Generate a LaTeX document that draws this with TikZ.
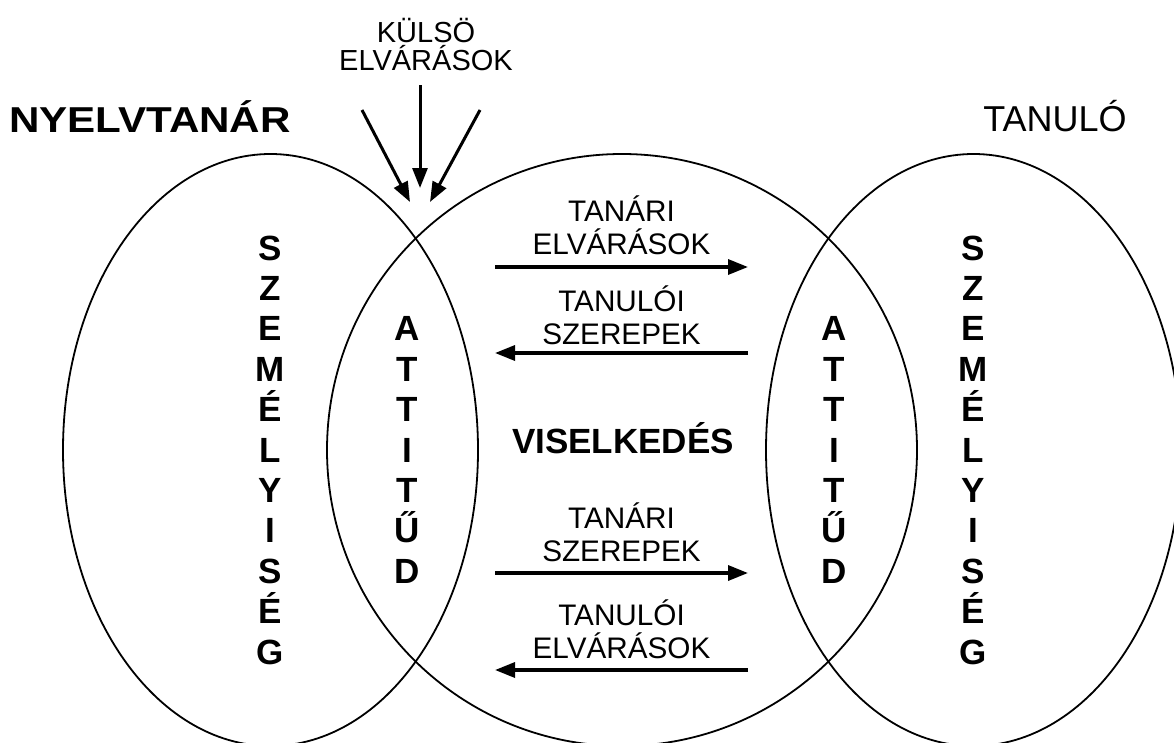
\documentclass[tikz,border=0pt]{standalone}
\usepackage{fontspec}
\setmainfont{Liberation Sans}
\usetikzlibrary{arrows.meta,shapes.geometric}

\begin{document}
\begin{tikzpicture}[x=1pt,y=-1pt,
    oval/.style={draw, ellipse, line width=1.8pt, inner sep=0pt, minimum height=592pt},
    letter/.style={anchor=base, inner sep=0pt, font=\fontsize{35}{40}\selectfont\bfseries},
    lbl/.style={anchor=south, inner sep=0pt, align=center, font=\fontsize{29.7}{33}\selectfont},
    arr/.style={line width=3.3pt, -{Triangle[length=20pt,width=15pt]}}]
    \useasboundingbox (0,0) rectangle (1174,742);

    \node[oval, minimum width=415pt] (tch) at (270.5,450) {};
    \node[oval, minimum width=590pt] (beh) at (622,450) {};
    \node[oval, minimum width=415pt] (lrn) at (973.5,450) {};

    \node[anchor=base west, inner sep=0pt, font=\fontsize{36}{40}\selectfont\bfseries] (tchname) at (9,132) {\scalebox{1.17}[1]{NYELVTANÁR}};
    \node[anchor=base, inner sep=0pt, font=\fontsize{36}{40}\selectfont] (lrnname) at (1055,131) {TANULÓ};
    \node[anchor=south, inner sep=0pt, align=center, font=\fontsize{29}{28}\selectfont] (ext) at (426,71) {KÜLSÖ\\ELVÁRÁSOK};

    \foreach \ch [count=\i from 0] in {S,Z,E,M,É,L,Y,I,S,É,G} {
        \node[letter] (szl\i) at (270.5,260+40.4*\i) {\ch};
        \node[letter] (szr\i) at (973.5,260+40.4*\i) {\ch};
    }
    \foreach \ch [count=\i from 2] in {A,T,T,I,T,Ű,D} {
        \node[letter] (atl\i) at (407,260+40.4*\i) {\ch};
        \node[letter] (atr\i) at (834,260+40.4*\i) {\ch};
    }
    \node[letter] (viselk) at (623,453) {VISELKEDÉS};

    \coordinate (e0) at (420,85);   \coordinate (e0t) at (420,188);
    \coordinate (e1) at (362,110);  \coordinate (e1t) at (410,202);
    \coordinate (e2) at (480,110);  \coordinate (e2t) at (430,202);
    \draw[line width=3pt, -{Triangle[length=20pt,width=15pt]}] (e0) -- (e0t);
    \draw[line width=3pt, -{Triangle[length=20pt,width=15pt]}] (e1) -- (e1t);
    \draw[line width=3pt, -{Triangle[length=20pt,width=15pt]}] (e2) -- (e2t);

    \coordinate (a1l) at (495,267); \coordinate (a1r) at (748,267);
    \coordinate (a2l) at (495,353); \coordinate (a2r) at (748,353);
    \coordinate (a3l) at (495,573); \coordinate (a3r) at (748,573);
    \coordinate (a4l) at (495,670); \coordinate (a4r) at (748,670);

    \node[lbl] (l1) at (621.5,255) {TANÁRI\\ELVÁRÁSOK};
    \node[lbl] (l2) at (621.5,345) {TANULÓI\\SZEREPEK};
    \node[lbl] (l3) at (621.5,562) {TANÁRI\\SZEREPEK};
    \node[lbl] (l4) at (621.5,659) {TANULÓI\\ELVÁRÁSOK};

    \draw[arr] (a1l) -- (a1r);
    \draw[arr] (a2r) -- (a2l);
    \draw[arr] (a3l) -- (a3r);
    \draw[arr] (a4r) -- (a4l);
\end{tikzpicture}
\end{document}
